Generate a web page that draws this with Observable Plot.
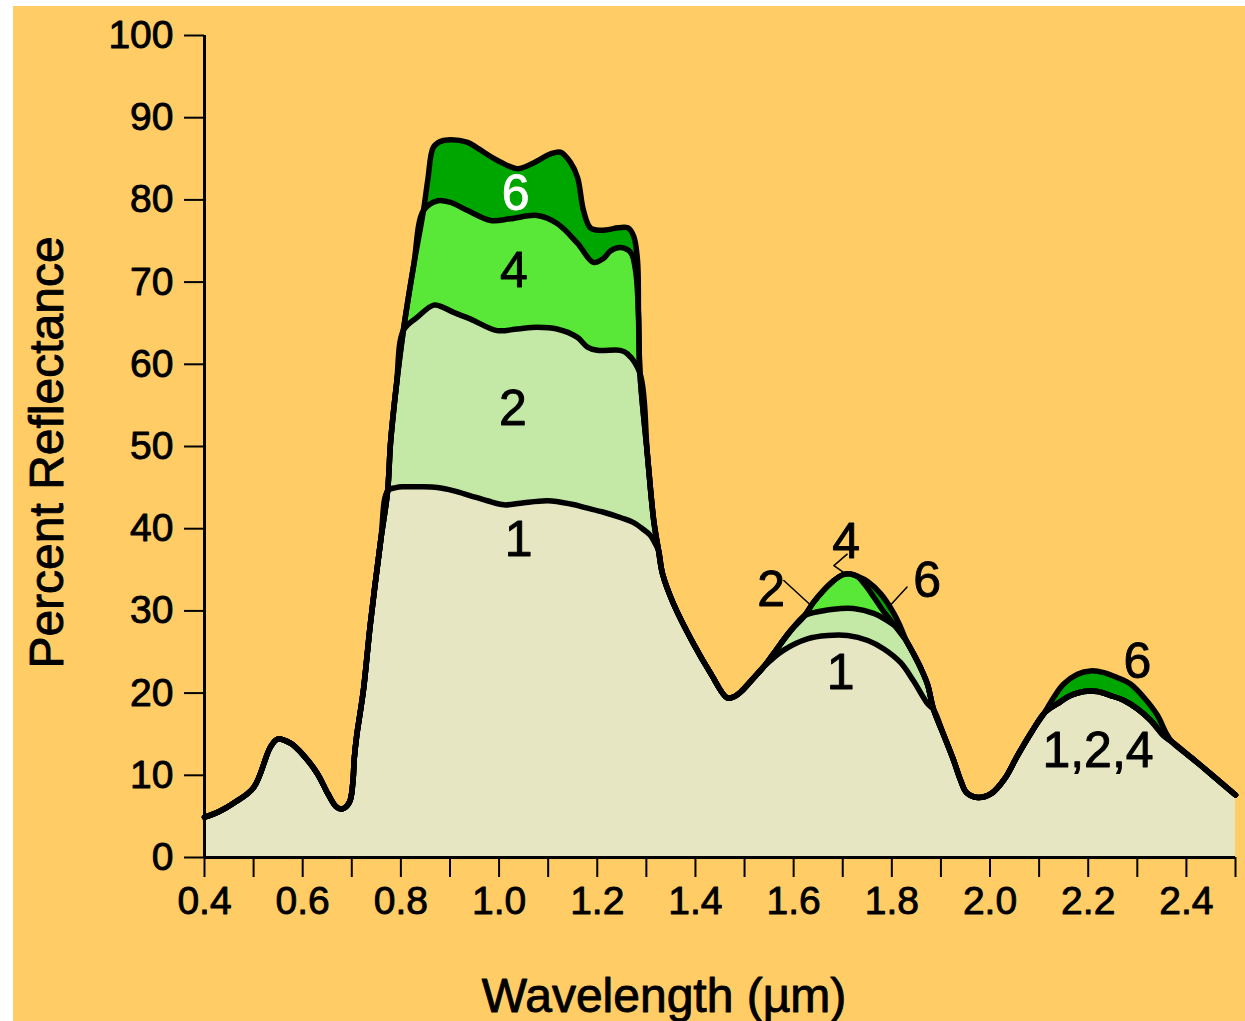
<!DOCTYPE html>
<html>
<head>
<meta charset="utf-8">
<script src="https://cdn.jsdelivr.net/npm/d3@7"></script>
<script src="https://cdn.jsdelivr.net/npm/@observablehq/plot@0.6"></script>
<style>
  html, body { margin: 0; padding: 0; background: #ffffff; }
  #chart { position: absolute; left: 13px; top: 6px; width: 1232px; height: 1015px; background: #FFCC66; }
</style>
</head>
<body>
<div id="chart"></div>
<script>
// ---- Tick values / labels ----
const xTicks = [0.4,0.5,0.6,0.7,0.8,0.9,1.0,1.1,1.2,1.3,1.4,1.5,1.6,1.7,1.8,1.9,2.0,2.1,2.2,2.3,2.4,2.5];
const xTickLabels = ["0.4","0.6","0.8","1.0","1.2","1.4","1.6","1.8","2.0","2.2","2.4"];
const yTicks = [0,10,20,30,40,50,60,70,80,90,100];

// ---- Curve pieces: [wavelength (µm), percent reflectance] ----
const leftEdge = [[0.400,4.9],[0.430,5.6],[0.459,6.6],[0.500,8.5],[0.534,13.4],[0.549,14.4],[0.575,13.9],[0.602,12.4],[0.630,10.2],[0.651,7.8],[0.668,6.2],[0.680,5.9],[0.695,6.7],[0.702,9.0],[0.705,12.0],[0.710,14.8],[0.716,17.2],[0.724,20.5],[0.738,28.5],[0.759,38.6],[0.773,44.6]];
const c1Peak1 = [[0.790,45.0],[0.806,45.1],[0.840,45.1],[0.874,45.0],[0.908,44.6],[0.942,44.0],[0.976,43.4],[1.010,42.9],[1.044,43.1],[1.099,43.4],[1.146,43.0],[1.180,42.5],[1.213,42.0],[1.250,41.3],[1.272,40.8],[1.292,40.0],[1.308,39.2],[1.318,38.2]];
const edge246 = [[0.779,50.5],[0.791,57.5],[0.805,64.1]];
const c2Peak1 = [[0.833,65.7],[0.867,67.2],[0.887,66.9],[0.908,66.3],[0.942,65.5],[0.996,64.1],[1.037,64.3],[1.078,64.5],[1.118,64.3],[1.159,63.3],[1.180,62.1],[1.200,61.7],[1.247,61.7],[1.261,61.3]];
const edge46 = [[0.826,72.0],[0.846,78.7]];
const c4Peak1 = [[0.875,79.9],[0.901,79.7],[0.936,78.7],[0.983,77.5],[1.023,77.7],[1.078,78.1],[1.119,77.1],[1.160,74.7],[1.192,72.4],[1.213,72.9],[1.227,73.8],[1.247,74.2],[1.268,73.6],[1.278,71.4]];
const edge6 = [[0.855,82.5],[0.866,86.4]];
const c6Peak1 = [[0.880,87.1],[0.895,87.3],[0.936,87.0],[0.956,86.3],[0.997,84.8],[1.038,83.8],[1.070,84.5],[1.105,85.6],[1.125,85.8],[1.146,84.5],[1.160,82.7],[1.172,78.7],[1.186,76.6],[1.207,76.3],[1.262,76.6],[1.274,75.6],[1.282,72.6]];
const rightEdge46 = [[1.284,66.0]];
const join2 = [[1.287,58.9]];
const rightEdge246 = [[1.302,49.1],[1.315,41.0]];
const valley = [[1.325,37.3],[1.333,34.5],[1.355,30.9],[1.396,26.0],[1.431,22.4],[1.465,19.4],[1.480,19.6],[1.495,20.3],[1.515,21.6],[1.539,23.2]];
const c1Peak2 = [[1.579,25.2],[1.628,26.6],[1.669,27.0],[1.710,27.0],[1.751,26.4],[1.783,25.4],[1.818,23.7],[1.844,21.5],[1.873,18.7]];
const climb246 = [[1.559,24.8],[1.594,27.6],[1.622,29.4]];
const c2Peak2 = [[1.649,29.9],[1.696,30.3],[1.722,30.3],[1.763,29.7],[1.791,28.8],[1.812,27.9]];
const climb46 = [[1.640,31.0],[1.661,32.5],[1.680,33.6],[1.700,34.4],[1.716,34.5],[1.730,34.2]];
const c4Right2 = [[1.745,33.2],[1.762,31.8],[1.780,30.2],[1.798,28.8],[1.815,27.5]];
const c6Right2 = [[1.750,33.6],[1.777,32.1],[1.804,29.7],[1.818,28.0]];
const descent246 = [[1.830,26.3],[1.844,24.8],[1.860,22.9],[1.873,21.0]];
const trough = [[1.885,18.0],[1.905,15.0],[1.926,11.8],[1.940,9.4],[1.952,7.9],[1.975,7.3],[2.003,7.8],[2.030,9.6],[2.056,12.4],[2.085,15.3],[2.111,17.6]];
const c1Peak3 = [[2.137,18.7],[2.164,19.7],[2.191,20.2],[2.219,20.2],[2.246,19.7],[2.273,19.1],[2.300,18.1],[2.327,16.7],[2.354,14.8]];
const c6Peak3 = [[2.130,19.5],[2.150,21.1],[2.178,22.3],[2.205,22.7],[2.232,22.5],[2.259,21.9],[2.286,21.1],[2.313,19.5],[2.341,17.3],[2.358,15.2]];
const tail = [[2.370,14.1],[2.413,12.0],[2.453,10.0],[2.500,7.6]];

const curve1 = [...leftEdge, ...c1Peak1, ...valley, ...c1Peak2, ...trough, ...c1Peak3, ...tail];
const curve2 = [...leftEdge, ...edge246, ...c2Peak1, ...join2, ...rightEdge246, ...valley, ...climb246, ...c2Peak2, ...descent246, ...trough, ...c1Peak3, ...tail];
const curve4 = [...leftEdge, ...edge246, ...edge46, ...c4Peak1, ...rightEdge46, ...join2, ...rightEdge246, ...valley, ...climb246, ...climb46, ...c4Right2, ...descent246, ...trough, ...c1Peak3, ...tail];
const curve6 = [...leftEdge, ...edge246, ...edge46, ...edge6, ...c6Peak1, ...rightEdge46, ...join2, ...rightEdge246, ...valley, ...climb246, ...climb46, ...c6Right2, ...descent246, ...trough, ...c6Peak3, ...tail];

// ---- Annotation labels (data coordinates) ----
const labelText = ["6","4","2","1","4","2","6","1","6","1,2,4"];
const labelX    = [1.034,1.030,1.028,1.040,1.707,1.554,1.872,1.696,2.300,2.220];
const labelY    = [80.7,71.4,54.6,38.6,38.4,32.6,33.6,22.5,23.8,13.0];
const labelWhite = [true,false,false,false,false,false,false,false,false,false];
const labels = labelText.map((t,i) => ({text:t, x:labelX[i], y:labelY[i], white:labelWhite[i]}));

const leader2 = [[1.580,33.7],[1.631,30.9]];
const leader4 = [[1.709,36.9],[1.682,35.5],[1.706,34.5]];
const leader6 = [[1.831,32.9],[1.797,30.7]];

const FONT = "'Liberation Sans', Arial, Helvetica, sans-serif";
const acc = {x: d => d[0], y: d => d[1], curve: "catmull-rom"};
const LW = 5.5;

const fmt = d => { const s = d.toFixed(1); return xTickLabels.includes(s) ? s : ""; };

const chart = Plot.plot({
  width: 1232,
  height: 1015,
  marginLeft: 191,
  marginRight: 10,
  marginTop: 29,
  marginBottom: 164,
  style: {background: "#FFCC66", fontFamily: FONT, fontSize: "39px", color: "black", overflow: "visible"},
  x: {domain: [0.4, 2.5]},
  y: {domain: [0, 100]},
  marks: [
    Plot.areaY(curve6, {...acc, fill: "#00A600"}),
    Plot.areaY(curve4, {...acc, fill: "#5AE838"}),
    Plot.areaY(curve2, {...acc, fill: "#C4E8A6"}),
    Plot.areaY(curve1, {...acc, fill: "#E6E6C3"}),
    Plot.line(curve6, {...acc, stroke: "black", strokeWidth: LW}),
    Plot.line(curve4, {...acc, stroke: "black", strokeWidth: LW}),
    Plot.line(curve2, {...acc, stroke: "black", strokeWidth: LW}),
    Plot.line(curve1, {...acc, stroke: "black", strokeWidth: LW}),
    Plot.line(leader2, {x: d => d[0], y: d => d[1], stroke: "black", strokeWidth: 1.5}),
    Plot.line(leader4, {x: d => d[0], y: d => d[1], stroke: "black", strokeWidth: 1.5}),
    Plot.line(leader6, {x: d => d[0], y: d => d[1], stroke: "black", strokeWidth: 1.5}),
    Plot.axisX({ticks: xTicks, tickSize: 20, tickPadding: 9, tickFormat: fmt, fontSize: 39, label: null, strokeWidth: 2, stroke: "black", fill: "black", textStroke: "black", textStrokeWidth: 0.9}),
    Plot.axisY({ticks: yTicks, tickSize: 20, tickPadding: 11, fontSize: 39, label: null, strokeWidth: 2, stroke: "black", fill: "black", textStroke: "black", textStrokeWidth: 0.9}),
    Plot.ruleY([0], {x1: 0.4, x2: 2.5, stroke: "black", strokeWidth: 3}),
    Plot.ruleX([0.4], {y1: 0, y2: 100, stroke: "black", strokeWidth: 3}),
    Plot.text(labels, {x: "x", y: "y", text: "text", fill: d => d.white ? "white" : "black", stroke: d => d.white ? "white" : "black", strokeWidth: 0.9, fontSize: 50, lineAnchor: "middle"}),
    Plot.text(["Wavelength (µm)"], {text: d => d, frameAnchor: "bottom", textAnchor: "middle", lineAnchor: "middle", dx: -56, dy: 139, fontSize: 48, fill: "black", stroke: "black", strokeWidth: 0.9}),
    Plot.text(["Percent Reflectance"], {text: d => d, frameAnchor: "left", textAnchor: "middle", lineAnchor: "middle", rotate: -90, dx: -157, dy: 6, fontSize: 48, fill: "black", stroke: "black", strokeWidth: 0.9})
  ]
});
document.getElementById("chart").appendChild(chart);
</script>
</body>
</html>
